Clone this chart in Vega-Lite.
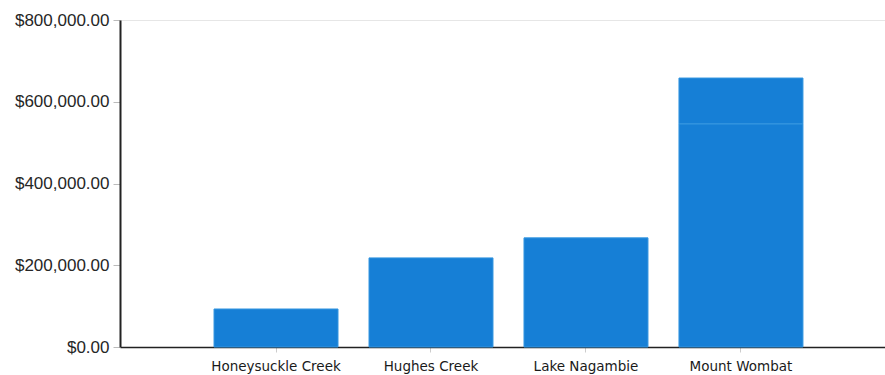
{
  "$schema": "https://vega.github.io/schema/vega-lite/v6.json",
  "width": 765,
  "height": 327,
  "autosize": "none",
  "padding": {"left": 120, "top": 20, "right": 0, "bottom": 28},
  "background": "white",
  "config": {"view": {"stroke": null}, "font": "Liberation Sans"},
  "data": {
    "values": [
      {"site": "Honeysuckle Creek", "part": "base", "amount": 93000},
      {"site": "Hughes Creek", "part": "base", "amount": 218000},
      {"site": "Lake Nagambie", "part": "base", "amount": 267000},
      {"site": "Mount Wombat", "part": "base", "amount": 546000},
      {"site": "Mount Wombat", "part": "upper", "amount": 112000}
    ]
  },
  "mark": {"type": "bar", "color": "#167fd6", "stroke": "#3596e0", "strokeWidth": 1},
  "encoding": {
    "x": {
      "field": "site",
      "type": "nominal",
      "sort": null,
      "scale": {"paddingInner": 0.2, "paddingOuter": 0.568, "align": 0.534},
      "axis": {
        "title": null,
        "labelAngle": 0,
        "labelFont": "DejaVu Sans",
        "labelFontSize": 13.5,
        "labelColor": "#1a1a1a",
        "labelPadding": 7,
        "domainColor": "#222222",
        "domainWidth": 1.5,
        "tickColor": "#cccccc",
        "tickSize": 5,
        "grid": false
      }
    },
    "y": {
      "field": "amount",
      "type": "quantitative",
      "stack": "zero",
      "scale": {"domain": [0, 800000], "nice": false},
      "axis": {
        "title": null,
        "values": [0, 200000, 400000, 600000, 800000],
        "format": "$,.2f",
        "labelFontSize": 17,
        "labelColor": "#262626",
        "labelPadding": 4,
        "domainColor": "#222222",
        "domainWidth": 2,
        "tickColor": "#bbbbbb",
        "tickSize": 7,
        "grid": true,
        "gridColor": {"condition": {"test": "datum.value == 800000", "value": "#e6e6e6"}, "value": "transparent"}
      }
    },
    "detail": {"field": "part"},
    "order": {"field": "part"}
  }
}
